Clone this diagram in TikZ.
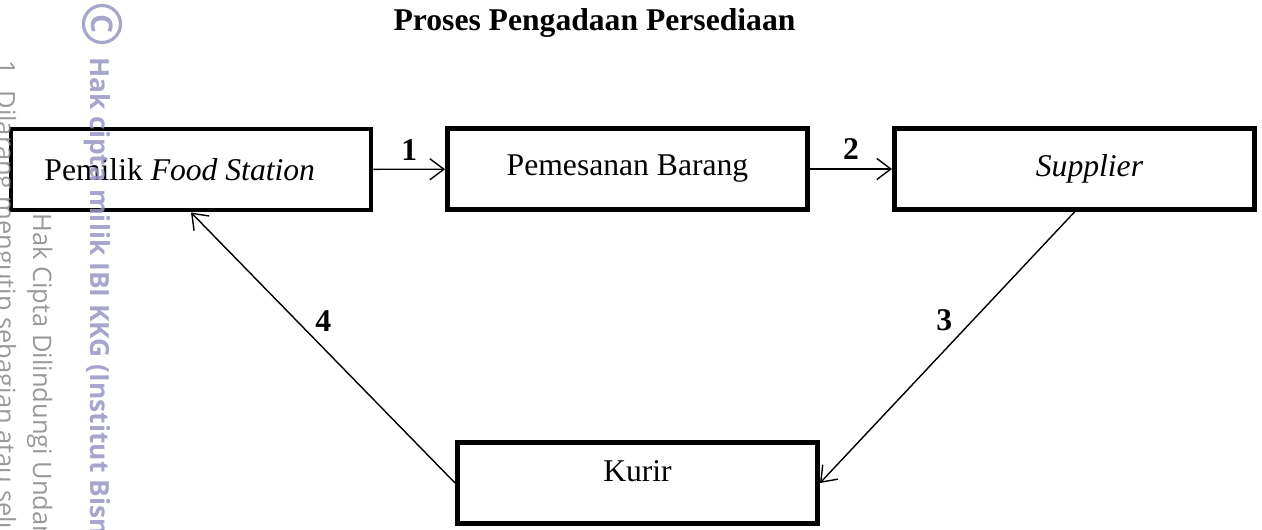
\documentclass[tikz,border=0pt]{standalone}
\usepackage{fontspec}
\setmainfont{Liberation Serif}
\newfontfamily\wmfont{Open Sans}
\usetikzlibrary{arrows.meta, positioning}
\definecolor{wmlavender}{RGB}{150,150,196}
\definecolor{wmgray}{RGB}{135,135,135}

\begin{document}
\begin{tikzpicture}[
    box/.style={rectangle, draw=black, line width=2.8pt, fill=white, minimum width=7.2cm, minimum height=1.62cm},
    arrow/.style={-{Straight Barb[length=8pt, width=12pt]}, line width=0.8pt},
    numlabel/.style={font=\fontsize{18}{21}\selectfont\bfseries},
    wmbold/.style={font=\wmfont\fontsize{15}{18}\selectfont\bfseries, text=wmlavender, rotate=-90, anchor=base west, inner sep=0pt, opacity=0.85},
    wmthin/.style={font=\wmfont\fontsize{14.5}{17}\selectfont, text=wmgray, rotate=-90, anchor=base west, inner sep=0pt, opacity=0.85},
    every node/.style={font=\fontsize{18}{21}\selectfont}
]
\useasboundingbox (0,0) rectangle (25.24,-10.58);
\clip (0,0) rectangle (25.24,-10.58);

% Title
\node[font=\fontsize{18}{21}\selectfont\bfseries] (title) at (11.89,-0.46) {Proses Pengadaan Persediaan};

% Process nodes
\node[box] (pemilik) at (3.82,-3.39) {Pemilik \textit{Food Station}\rule{0.45cm}{0pt}};
\node[box] (pesan) at (12.55,-3.38) {Pemesanan Barang};
\node[box] (supplier) at (21.49,-3.38) {\rule{0.6cm}{0pt}\textit{Supplier}};
\node[box] (kurir) at (12.75,-9.66) {\raisebox{1pt}[0pt][0pt]{Kurir}};

% Flow of the procurement
\draw[arrow] (pemilik) -- (pesan) node[numlabel, midway, above=1.5pt] {1};
\draw[arrow] (pesan) -- (supplier) node[numlabel, midway, above=1.5pt] {2};
\draw[arrow] (supplier.south) -- (kurir.east) node[numlabel, pos=0.4, left=8pt] {3};
\draw[arrow] (kurir.west) -- (pemilik.south) node[numlabel, pos=0.6, right=7pt] {4};

% Watermark
\node[circle, draw=wmlavender, line width=1.8pt, text=wmlavender, font=\wmfont\fontsize{17}{20}\selectfont\bfseries, minimum size=0.74cm, inner sep=0pt, rotate=-90, opacity=0.85] (copyc) at (2.04,-0.48) {C};
\node[wmbold] (wmowner) at (1.80,-1.14) {Hak cipta milik IBI KKG (Institut Bisnis};
\node[wmthin] (wmlaw) at (0.66,-4.26) {Hak Cipta Dilindungi Undang-Undang};
\node[wmthin] (wmrule) at (-0.06,-1.20) {1. Dilarang mengutip sebagian atau seluruh};

\end{tikzpicture}
\end{document}
